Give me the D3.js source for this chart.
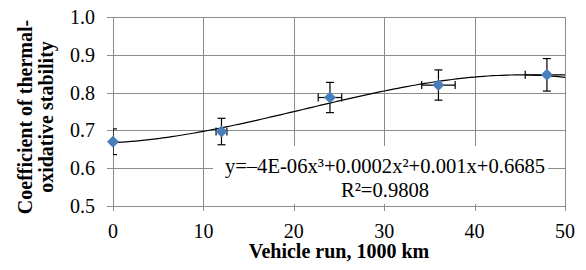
<!DOCTYPE html>
<html>
  <head>
    <meta charset="utf-8">
    <title>Thermal-oxidative stability</title>
    <script src="https://d3js.org/d3.v7.min.js"></script>
    <style>
      body { margin: 0; background: #fff; }
    </style>
  </head>
  <body>
    <div class="chart"></div>

    <script>
      // readings
      const runKm = [0, 12, 24, 36, 48];
      const coeff = [0.670, 0.697, 0.787, 0.820, 0.847];
      const coeffErr = [0.034, 0.035, 0.040, 0.040, 0.043];
      const runErr = [0, 0.6, 1.3, 1.85, 2.4];
      const xTicks = [0, 10, 20, 30, 40, 50];
      const yTicks = [0.5, 0.6, 0.7, 0.8, 0.9, 1.0];
      const eqLines = ["y=\u20134E-06x\u00b3+0.0002x\u00b2+0.001x+0.6685", "R\u00b2=0.9808"];

      const W = 586, H = 270;
      const m = {top: 17, right: 21, bottom: 64, left: 113};
      const grid = "#8c8c8c";

      const svg = d3.select("div.chart").append("svg")
        .attr("width", W)
        .attr("height", H)
        .attr("font-family", "'Liberation Serif', 'Times New Roman', serif");

      const x = d3.scaleLinear().domain([0, 50]).range([m.left, W - m.right]);
      const y = d3.scaleLinear().domain([0.5, 1.0]).range([H - m.bottom, m.top]);

      svg.append("defs").append("clipPath").attr("id", "plot")
        .append("rect")
        .attr("x", m.left).attr("y", m.top)
        .attr("width", x(50) - m.left).attr("height", y(0.5) - m.top);

      // gridlines
      svg.append("g").selectAll("line").data(yTicks).join("line")
        .attr("x1", m.left - 6).attr("x2", x(50))
        .attr("y1", d => Math.round(y(d)) + 0.5).attr("y2", d => Math.round(y(d)) + 0.5)
        .attr("stroke", grid);
      svg.append("g").selectAll("line").data(xTicks).join("line")
        .attr("y1", y(1.0)).attr("y2", y(0.5) + 5)
        .attr("x1", d => Math.round(x(d)) + 0.5).attr("x2", d => Math.round(x(d)) + 0.5)
        .attr("stroke", grid);

      // tick labels
      svg.append("g").selectAll("text").data(yTicks).join("text")
        .attr("x", m.left - 18).attr("y", d => y(d) + 7)
        .attr("text-anchor", "end").attr("font-size", 20)
        .text(d => d.toFixed(1));
      svg.append("g").selectAll("text").data(xTicks).join("text")
        .attr("x", d => x(d)).attr("y", y(0.5) + 32)
        .attr("text-anchor", "middle").attr("font-size", 20)
        .text(d => d);

      // cubic least-squares trendline
      function cubicFit(xs, ys) {
        const n = 4;
        const A = [], b = [];
        for (let i = 0; i < n; i++) {
          A.push([]);
          for (let j = 0; j < n; j++) A[i].push(d3.sum(xs, v => Math.pow(v, i + j)));
          b.push(d3.sum(xs, (v, k) => ys[k] * Math.pow(v, i)));
        }
        for (let c = 0; c < n; c++) {
          for (let r = c + 1; r < n; r++) {
            const f = A[r][c] / A[c][c];
            for (let k = c; k < n; k++) A[r][k] -= f * A[c][k];
            b[r] -= f * b[c];
          }
        }
        const s = new Array(n).fill(0);
        for (let r = n - 1; r >= 0; r--) {
          let t = b[r];
          for (let k = r + 1; k < n; k++) t -= A[r][k] * s[k];
          s[r] = t / A[r][r];
        }
        return s;
      }
      const cf = cubicFit(runKm, coeff);
      const trend = d3.range(0, 50.01, 0.5).map(v => [v, cf[0] + cf[1]*v + cf[2]*v*v + cf[3]*v*v*v]);

      svg.append("path")
        .datum(trend)
        .attr("d", d3.line().x(d => x(d[0])).y(d => y(d[1])))
        .attr("fill", "none").attr("stroke", "#000").attr("stroke-width", 1.2);

      // error bars
      const pts = runKm.map((v, i) => ({x: v, y: coeff[i], ey: coeffErr[i], ex: runErr[i]}));
      const eb = svg.append("g").attr("clip-path", "url(#plot)")
        .attr("stroke", "#000").attr("stroke-width", 1.2);
      pts.forEach(p => {
        eb.append("line").attr("x1", x(p.x)).attr("x2", x(p.x))
          .attr("y1", y(p.y - p.ey)).attr("y2", y(p.y + p.ey));
        eb.append("line").attr("x1", x(p.x) - 4).attr("x2", x(p.x) + 4)
          .attr("y1", y(p.y - p.ey)).attr("y2", y(p.y - p.ey));
        eb.append("line").attr("x1", x(p.x) - 4).attr("x2", x(p.x) + 4)
          .attr("y1", y(p.y + p.ey)).attr("y2", y(p.y + p.ey));
        if (p.ex > 0) {
          eb.append("line").attr("x1", x(p.x - p.ex)).attr("x2", x(p.x + p.ex))
            .attr("y1", y(p.y)).attr("y2", y(p.y));
          eb.append("line").attr("x1", x(p.x - p.ex)).attr("x2", x(p.x - p.ex))
            .attr("y1", y(p.y) - 4).attr("y2", y(p.y) + 4);
          eb.append("line").attr("x1", x(p.x + p.ex)).attr("x2", x(p.x + p.ex))
            .attr("y1", y(p.y) - 4).attr("y2", y(p.y) + 4);
        }
      });

      // diamond markers
      svg.append("g").selectAll("path").data(pts).join("path")
        .attr("d", "M0,-6L6,0L0,6L-6,0Z")
        .attr("transform", d => `translate(${x(d.x)},${y(d.y)})`)
        .attr("fill", "#4a7ebb");

      // equation label
      svg.append("rect")
        .attr("x", 213).attr("y", 146).attr("width", 335).attr("height", 58)
        .attr("fill", "#fff");
      svg.append("g").selectAll("text").data(eqLines).join("text")
        .attr("x", 385).attr("y", (d, i) => 173 + i * 24)
        .attr("text-anchor", "middle").attr("font-size", 20.6)
        .text(d => d);

      // axis titles
      svg.append("text")
        .attr("x", (m.left + x(50)) / 2).attr("y", 258)
        .attr("text-anchor", "middle")
        .attr("font-size", 20).attr("font-weight", "bold")
        .text("Vehicle run, 1000 km");

      svg.append("text")
        .attr("transform", "translate(32,117) rotate(-90)")
        .attr("text-anchor", "middle")
        .attr("font-size", 20).attr("font-weight", "bold")
        .selectAll("tspan").data(["Coefficient of thermal-", "oxidative stability"]).join("tspan")
        .attr("x", 0).attr("dy", (d, i) => i ? 21 : 0)
        .text(d => d);
    </script>
  </body>
</html>
